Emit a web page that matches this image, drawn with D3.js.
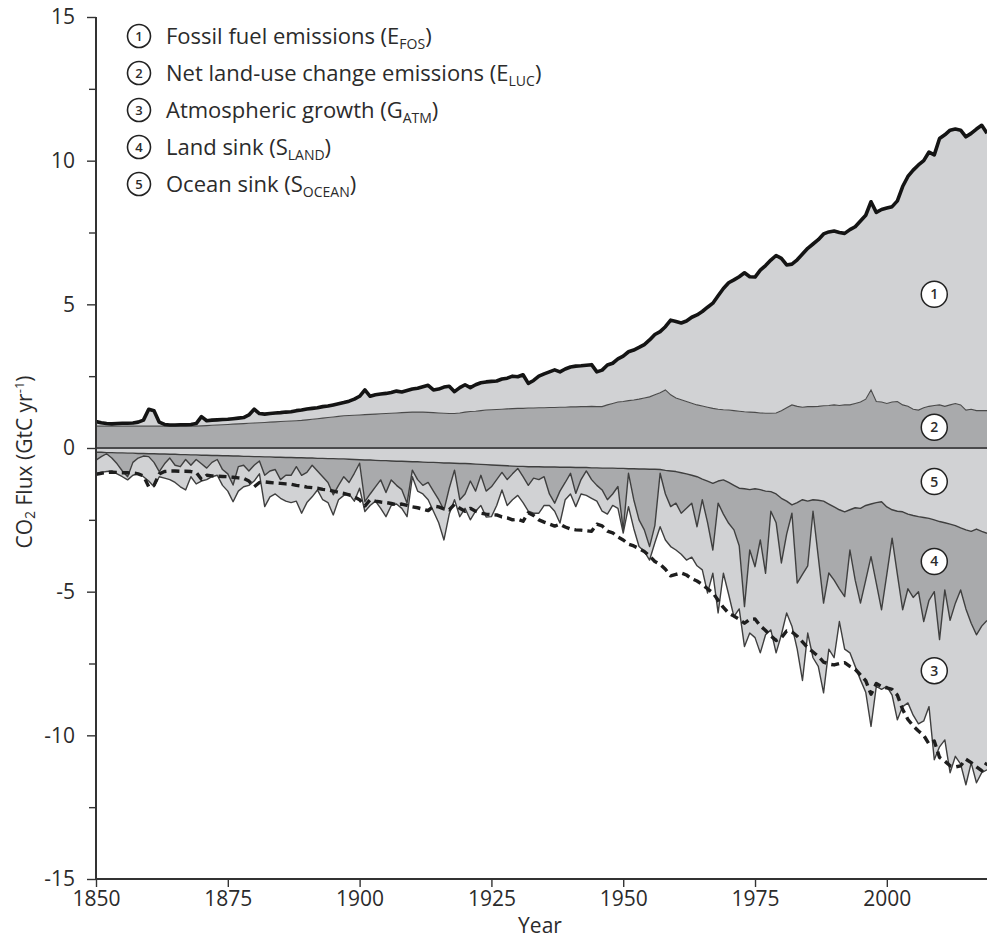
<!DOCTYPE html>
<html>
<head>
<meta charset="utf-8">
<script src="https://cdn.jsdelivr.net/npm/d3@7"></script>
<style>
  html, body { margin: 0; padding: 0; background: #fff; }
  svg text { font-family: "Open Sans", "Noto Sans", sans-serif; fill: #2b2b2b; }
</style>
</head>
<body>
<svg id="chart" width="987" height="941"></svg>
<script>
// ---------------- DATA (GtC per year), 1850 .. 2019 ----------------
const years = d3.range(1850, 2020);

// 2: net land-use change emissions (E_LUC)
const landUse = [
  .76,.76,.76,.76,.76,.76,.76,.76,.76,.76,
  .76,.76,.76,.76,.76,.76,.76,.76,.76,.76,
  .77,.78,.79,.80,.81,.82,.83,.84,.85,.86,
  .87,.88,.89,.90,.91,.92,.93,.94,.95,.96,
  .98,1.0,1.02,1.04,1.06,1.08,1.1,1.12,1.13,1.14,
  1.15,1.16,1.17,1.18,1.19,1.2,1.21,1.22,1.23,1.24,
  1.25,1.25,1.25,1.24,1.23,1.22,1.21,1.2,1.2,1.22,
  1.25,1.27,1.28,1.3,1.32,1.33,1.34,1.35,1.36,1.37,
  1.38,1.38,1.39,1.39,1.4,1.4,1.41,1.41,1.42,1.42,
  1.43,1.43,1.44,1.44,1.45,1.44,1.44,1.5,1.55,1.6,
  1.62,1.65,1.67,1.7,1.74,1.78,1.85,1.92,2.02,1.85,
  1.74,1.68,1.62,1.56,1.5,1.46,1.42,1.38,1.35,1.33,
  1.32,1.3,1.28,1.26,1.25,1.24,1.22,1.21,1.21,1.22,
  1.3,1.4,1.5,1.45,1.42,1.44,1.44,1.45,1.47,1.48,
  1.5,1.48,1.5,1.5,1.55,1.6,1.7,2.02,1.62,1.6,
  1.55,1.6,1.62,1.5,1.45,1.35,1.32,1.4,1.45,1.48,
  1.5,1.45,1.5,1.55,1.5,1.32,1.35,1.3,1.3,1.3
];

// 1: fossil fuel emissions (E_FOS)
const fossil = [
  .16,.12,.09,.08,.09,.1,.1,.11,.14,.21,
  .59,.54,.14,.06,.04,.04,.05,.05,.06,.09,
  .32,.17,.18,.18,.18,.18,.19,.2,.21,.29,
  .48,.32,.29,.3,.31,.31,.32,.32,.35,.36,
  .38,.38,.38,.4,.4,.42,.44,.46,.5,.56,
  .65,.86,.63,.67,.69,.7,.72,.76,.72,.76,
  .8,.83,.88,.94,.79,.83,.91,.95,.76,.88,
  .95,.83,.92,.97,.98,.99,.99,1.05,1.07,1.13,
  1.1,1.17,.86,.96,1.1,1.18,1.24,1.31,1.23,1.33,
  1.39,1.42,1.42,1.44,1.45,1.21,1.27,1.39,1.4,1.5,
  1.58,1.7,1.74,1.8,1.86,1.98,2.1,2.13,2.2,2.6,
  2.66,2.67,2.8,2.99,3.13,3.29,3.48,3.66,3.95,4.22,
  4.43,4.55,4.68,4.84,4.71,4.71,4.97,5.14,5.33,5.48,
  5.3,4.97,4.9,5.1,5.33,5.51,5.66,5.8,5.98,6.04,
  6.05,6.02,5.97,6.1,6.15,6.3,6.4,6.55,6.58,6.7,
  6.8,6.8,6.98,7.6,8.0,8.32,8.53,8.6,8.85,8.72,
  9.27,9.45,9.56,9.55,9.56,9.51,9.6,9.8,9.93,9.65
];

// 5: ocean sink (S_OCEAN)
const oceanSink = [
  .15,.15,.16,.16,.17,.17,.18,.18,.19,.19,
  .2,.2,.21,.21,.22,.22,.23,.23,.24,.24,
  .25,.25,.26,.26,.27,.27,.28,.28,.29,.29,
  .3,.3,.31,.31,.32,.32,.33,.33,.34,.34,
  .35,.35,.36,.36,.37,.37,.38,.38,.39,.4,
  .41,.42,.42,.43,.44,.44,.45,.46,.46,.47,
  .48,.48,.49,.5,.5,.51,.52,.52,.53,.54,
  .54,.55,.56,.57,.58,.59,.6,.61,.62,.63,
  .64,.64,.65,.65,.65,.66,.66,.66,.67,.67,
  .67,.68,.68,.68,.69,.69,.7,.7,.7,.71,
  .71,.72,.72,.73,.73,.74,.74,.75,.78,.8,
  .82,.86,.9,.95,1.0,1.08,1.15,1.23,1.15,1.11,
  1.2,1.3,1.4,1.42,1.45,1.42,1.45,1.5,1.52,1.6,
  1.75,1.85,1.98,1.9,1.8,1.85,1.8,1.82,1.85,1.95,
  2.05,2.15,2.22,2.15,2.08,2.1,2.0,1.95,1.9,1.87,
  2.05,2.15,2.2,2.22,2.3,2.35,2.39,2.42,2.45,2.5,
  2.56,2.6,2.65,2.7,2.78,2.85,2.9,2.82,2.9,2.97
];

// 4: land sink (S_LAND)
const landSink = [
  .27,.15,.04,.19,.38,.63,.82,.32,.16,.09,
  .1,.3,.61,.34,.13,.38,.42,.17,.36,.16,
  .3,.45,.24,.14,.48,.63,1.01,.37,.31,.51,
  .3,.15,.64,.49,.43,.78,.62,.62,.31,.61,
  .5,.25,.44,.64,.83,1.26,.92,.62,.81,.48,
  .12,1.45,1.18,.92,.67,1.11,.66,.84,.99,1.45,
  .29,.62,.81,.7,1.0,1.29,1.64,.88,.24,1.26,
  1.06,.6,.94,.38,.92,.76,.5,.24,.48,.27,
  .07,.36,.65,.4,.45,.34,.94,1.26,.83,.53,
  .21,.9,.42,.12,.41,.61,.76,1.1,.9,.63,
  2.14,.16,1.08,1.77,2.12,2.69,1.96,.13,.82,1.24,
  1.1,1.41,1.2,.97,1.74,.72,1.45,2.32,.77,1.19,
  1.42,1.55,2.0,4.1,2.1,2.71,1.75,2.86,.68,1.0,
  2.25,1.15,.29,2.8,2.6,2.25,.4,1.98,3.55,2.4,
  2.55,2.75,2.95,1.4,2.52,3.3,2.6,1.83,2.8,3.76,
  2.35,.99,2.2,3.41,2.6,2.85,2.61,3.62,2.85,2.5,
  4.11,2.34,3.35,2.7,2.16,2.75,3.2,3.68,3.3,3.03
];

// 3: atmospheric growth (G_ATM)
const atmGrowth = [
  .46,.55,.62,.45,.35,.2,.11,.45,.55,.72,
  .85,.85,.18,.5,.75,.6,.7,1.06,.4,.85,
  .6,.4,.5,.55,.55,.6,.58,.85,.75,.5,
  .55,.45,1.09,.9,.85,.65,.9,.95,1.2,1.32,
  1.05,1.1,.66,.8,.7,.7,.5,.65,.4,.97,
  .87,.34,.4,.5,.99,.84,.89,.65,.65,.47,
  .23,.4,.3,.6,.7,.8,1.04,.9,1.03,.59,
  .5,1.35,.7,1.05,.9,1.04,.9,.61,.9,.9,
  .94,.9,.9,1.22,1.17,1.0,.4,.28,1.11,.6,
  .72,.46,.5,.85,.65,.55,.74,.5,.4,.76,
  .11,1.16,1.0,.93,.75,.47,.6,1.86,1.6,1.39,
  1.63,1.43,1.8,1.88,1.36,2.44,2.45,.81,3.82,2.06,
  2.48,3.02,2.2,1.39,2.89,2.47,3.93,2.14,4.13,4.53,
  2.5,2.74,3.93,2.3,3.69,2.34,5.1,3.8,3.12,2.65,
  2.7,1.14,1.83,3.58,3.0,2.67,3.9,5.91,3.6,2.77,
  3.9,5.46,5.06,3.37,3.97,4.1,4.6,3.46,3.7,5.85,
  3.73,5.22,5.3,5.33,6.06,6.12,4.86,5.15,5.1,5.2
];

// axis ticks
const xTicks = [1850, 1875, 1900, 1925, 1950, 1975, 2000];
const yTicksMajor = [-15, -10, -5, 0, 5, 10, 15];
const yTicksMinor = [-12.5, -7.5, -2.5, 2.5, 7.5, 12.5];

const legendItems = [
  { n: "1", text: "Fossil fuel emissions (E", sub: "FOS", tail: ")" },
  { n: "2", text: "Net land-use change emissions (E", sub: "LUC", tail: ")" },
  { n: "3", text: "Atmospheric growth (G", sub: "ATM", tail: ")" },
  { n: "4", text: "Land sink (S", sub: "LAND", tail: ")" },
  { n: "5", text: "Ocean sink (S", sub: "OCEAN", tail: ")" }
];
// in-chart markers: [number, year, value]
const markers = [
  ["1", 2009, 5.35], ["2", 2009, 0.72], ["5", 2009, -1.17],
  ["4", 2009, -3.95], ["3", 2009, -7.75]
];

// ---------------- CHART ----------------
(function draw() {
const svg = d3.select("#chart");
const mL = 96, mR = 987, mT = 17, mB = 879;

const x = d3.scaleLinear().domain([1850, 2019]).range([mL, mR]);
const y = d3.scaleLinear().domain([-15, 15]).range([mB, mT]);

const LIGHT = "#d1d2d4", DARK = "#a9aaac";

const rows = years.map((yr, i) => ({
  year: yr,
  landUse: landUse[i], fossil: fossil[i],
  ocean: -oceanSink[i], land: -landSink[i], atm: -atmGrowth[i]
}));

const posStack = d3.stack().keys(["landUse", "fossil"])(rows);
const negStack = d3.stack().keys(["ocean", "land", "atm"])(rows);

svg.append("defs").append("clipPath").attr("id", "plotclip")
  .append("rect").attr("x", mL).attr("y", mT)
  .attr("width", mR - mL).attr("height", mB - mT);

const plot = svg.append("g").attr("clip-path", "url(#plotclip)");

const area = d3.area()
  .x((d, i) => x(years[i]))
  .y0(d => y(d[0]))
  .y1(d => y(d[1]));

const fills = { landUse: DARK, fossil: LIGHT, ocean: LIGHT, land: DARK, atm: LIGHT };

[...posStack, ...negStack].forEach(s => {
  plot.append("path").datum(s).attr("d", area)
    .attr("fill", fills[s.key]).attr("stroke", "none");
});

const edge = d3.line().x((d, i) => x(years[i])).y(d => y(d[1]));

// thin boundary lines
plot.append("path").datum(posStack[0]).attr("d", edge)
  .attr("fill", "none").attr("stroke", "#4a4a4a").attr("stroke-width", 1.1);
negStack.forEach(s => {
  plot.append("path").datum(s).attr("d", edge)
    .attr("fill", "none").attr("stroke", "#3f3f3f").attr("stroke-width", 1.4)
    .attr("stroke-linejoin", "round");
});

// zero line
plot.append("line").attr("x1", mL).attr("x2", mR)
  .attr("y1", y(0)).attr("y2", y(0))
  .attr("stroke", "#4a4a4c").attr("stroke-width", 2.2);

// total emissions (thick) and its mirror (dashed)
plot.append("path").datum(posStack[1]).attr("d", edge)
  .attr("fill", "none").attr("stroke", "#141414").attr("stroke-width", 3.6)
  .attr("stroke-linejoin", "round");

const mirror = d3.line().x((d, i) => x(years[i])).y(d => y(-d[1]));
plot.append("path").datum(posStack[1]).attr("d", mirror)
  .attr("fill", "none").attr("stroke", "#1e1e1e").attr("stroke-width", 3.4)
  .attr("stroke-dasharray", "8,5").attr("stroke-linejoin", "round");

// ---------------- AXES ----------------
const yAxisMajor = d3.axisLeft(y).tickValues(yTicksMajor).tickSize(9)
  .tickPadding(12).tickFormat(d => String(d));
const yAxisMinor = d3.axisLeft(y).tickValues(yTicksMinor).tickSize(7).tickFormat("");

const gy = svg.append("g").attr("transform", `translate(${mL},0)`).call(yAxisMajor);
svg.append("g").attr("transform", `translate(${mL},0)`).call(yAxisMinor)
  .call(g => g.select(".domain").remove());

const xAxis = d3.axisBottom(x).tickValues(xTicks).tickSize(8)
  .tickPadding(4).tickFormat(d3.format("d"));
const gx = svg.append("g").attr("transform", `translate(0,${mB})`).call(xAxis);

svg.selectAll(".tick line").attr("stroke", "#333").attr("stroke-width", 1.4);
svg.selectAll(".domain").attr("stroke", "#333").attr("stroke-width", 2);
gx.select(".domain").attr("d", `M${mL},0H${mR}`);
gy.select(".domain").attr("d", `M0,${mT}V${mB}`);
svg.selectAll(".tick text").attr("font-size", 21)
  .attr("fill", "#2b2b2b").attr("font-family", null);

// axis titles
svg.append("text").attr("x", 540).attr("y", 933)
  .attr("text-anchor", "middle").attr("font-size", 21).text("Year");

const yl = svg.append("text")
  .attr("transform", `translate(32,462) rotate(-90)`)
  .attr("text-anchor", "middle").attr("font-size", 21);
yl.append("tspan").text("CO");
yl.append("tspan").attr("font-size", 14).attr("dy", 3).text("2");
yl.append("tspan").attr("dy", -3).text(" Flux (GtC yr");
yl.append("tspan").attr("font-size", 13).attr("dy", -8).text("-1");
yl.append("tspan").attr("dy", 8).text(")");

// ---------------- LEGEND ----------------
const lg = svg.append("g");
legendItems.forEach((it, i) => {
  const cy = 36 + i * 37;
  lg.append("circle").attr("cx", 139).attr("cy", cy).attr("r", 11.5)
    .attr("fill", "#fff").attr("stroke", "#222").attr("stroke-width", 1.6);
  lg.append("text").attr("x", 139).attr("y", cy + 4.5).attr("text-anchor", "middle")
    .attr("font-size", 13).attr("font-weight", 600).text(it.n);
  const t = lg.append("text").attr("x", 166).attr("y", cy + 7.5).attr("font-size", 22);
  t.append("tspan").text(it.text);
  t.append("tspan").attr("font-size", 14).attr("dy", 5).text(it.sub);
  t.append("tspan").attr("dy", -5).text(it.tail);
});

// ---------------- IN-CHART MARKERS ----------------
markers.forEach(([n, yr, v]) => {
  svg.append("circle").attr("cx", x(yr)).attr("cy", y(v)).attr("r", 13)
    .attr("fill", "#fff").attr("stroke", "#222").attr("stroke-width", 1.5);
  svg.append("text").attr("x", x(yr)).attr("y", y(v) + 5).attr("text-anchor", "middle")
    .attr("font-size", 14).attr("font-weight", 600).text(n);
});
})();
</script>
</body>
</html>
